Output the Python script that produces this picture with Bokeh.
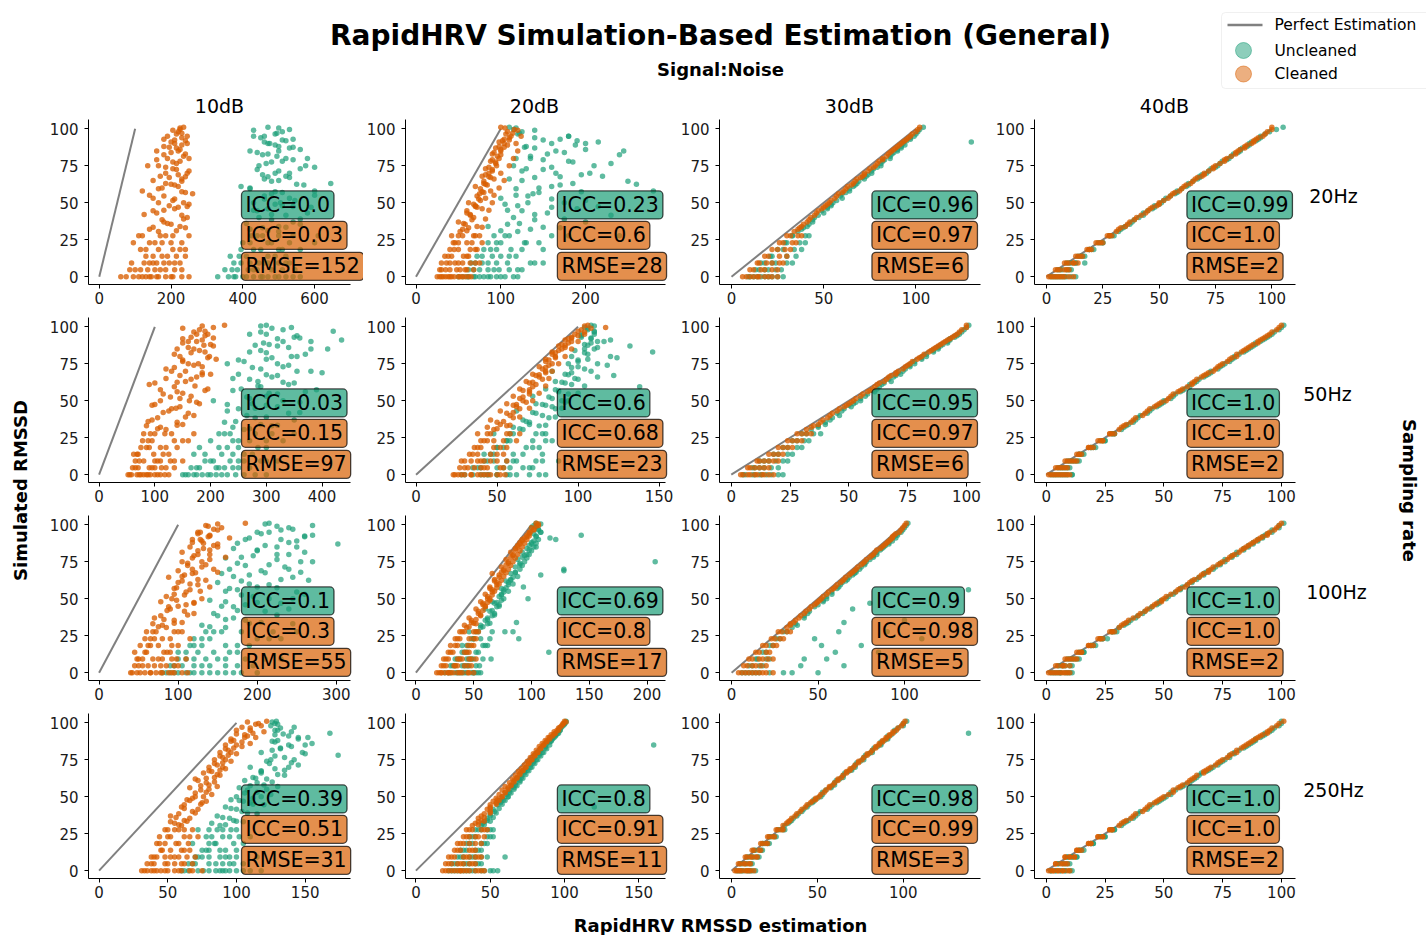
import math
from bokeh.plotting import figure
from bokeh.models import Range1d, Label, BoxAnnotation, FixedTicker
from bokeh.layouts import row, column
from bokeh.core.properties import value
from bokeh.embed import file_html
from bokeh.resources import INLINE

# ---------------- data ----------------
noise_levels = ["10dB", "20dB", "30dB", "40dB"]
sampling_rates = ["20Hz", "50Hz", "100Hz", "250Hz"]

simulated_rmssd = [0, 0, 0, 0, 0, 4.6, 4.6, 4.6, 9.2, 9.2, 9.2, 13.8, 13.8, 18.4, 18.4, 23, 23, 27.6, 27.6,
                   32, 34, 37, 40, 43, 46, 48, 50, 53, 56, 58, 61, 63, 66, 68, 70, 73, 75, 78, 80, 83, 85,
                   87, 89, 91, 93, 95, 98, 101,
                   0, 0, 0, 0, 0, 4.6, 4.6, 4.6, 9.2, 9.2, 9.2, 13.8, 13.8, 18.4, 18.4, 23, 23, 27.6, 27.6,
                   30.5, 33, 35.5, 38.5, 41.5, 44.5, 47, 49, 51.5, 54.5, 57, 59.5, 62, 64.5, 67, 69, 71.5, 74,
                   76.5, 79, 81.5, 84, 86, 88, 90, 92, 94, 96.5, 99.5]

# extra simulations shown in the noisier (10dB / 20dB) panels
simulated_rmssd_extra = [0, 0, 0, 0, 0, 4.6, 4.6, 4.6, 9.2, 9.2, 9.2, 13.8, 13.8, 18.4, 18.4, 23, 23, 27.6, 27.6,
                         31, 33.5, 36, 39, 42, 45, 47.5, 50, 52.5, 55, 57.5, 60, 62.5, 65, 67.5, 70, 72.5, 75,
                         77.5, 80, 82.5, 85, 87.5, 90, 92.5, 95, 97, 99, 100.5]

perfect_estimation = [0, 100]

# 20Hz row
cleaned_20hz_10db = [60, 145, 185, 110, 230, 85, 170, 135, 125, 195, 160, 150, 215, 115, 240, 175, 95, 205, 250,
                     140, 225, 180, 245, 160, 210, 195, 235, 150, 260, 120, 220, 185, 230, 170, 245, 205, 135, 225, 190, 240, 160, 215, 230, 200, 180, 245, 220, 235,
                     95, 130, 165, 200, 250, 115, 155, 210, 140, 180, 225, 175, 240, 130, 205, 155, 230, 185, 120,
                     165, 240, 200, 175, 230, 150, 220, 250, 205, 180, 240, 165, 210, 230, 195, 220, 250, 185, 215, 160, 235, 200, 225, 180, 210, 240, 230, 215, 225]
uncleaned_20hz_10db = [330, 375, 430, 470, 520, 350, 415, 545, 395, 460, 500, 365, 520, 430, 560, 400, 480, 455, 610,
                       420, 500, 540, 445, 580, 470, 510, 430, 530, 480, 600, 395, 645, 460, 520, 490, 560, 445, 510, 580, 470, 420, 530, 490, 460, 540, 430, 510, 470,
                       380, 410, 455, 500, 540, 370, 440, 480, 420, 470, 520, 390, 490, 450, 510, 470, 600, 425, 540,
                       500, 455, 560, 480, 520, 440, 590, 490, 545, 460, 510, 420, 570, 480, 530, 455, 500, 600, 465, 540, 495, 440, 560, 500, 470, 520, 450, 490, 530]
cleaned_20hz_10db_extra = [75, 120, 160, 205, 140, 100, 185, 230, 90, 150, 210, 130, 190, 165, 225, 140, 200, 110, 170,
                           215, 150, 190, 235, 125, 180, 245, 165, 210, 140, 230, 175, 200, 150, 240, 185, 215, 165, 205, 250, 180, 220, 195, 245, 210, 190, 230, 205, 225]
uncleaned_20hz_10db_extra = [360, 400, 450, 490, 560, 385, 430, 510, 375, 445, 530, 410, 470, 395, 500, 420, 530, 440, 500,
                             470, 520, 410, 560, 480, 430, 540, 505, 460, 600, 490, 420, 550, 500, 470, 530, 440, 575, 480, 520, 455, 500, 540, 475, 510, 460, 495, 430, 500]
cleaned_20hz_20db = [25, 35, 45, 55, 62, 30, 48, 68, 40, 55, 75, 38, 62, 45, 70, 50, 66, 42, 75,
                     55, 72, 50, 68, 60, 78, 70, 62, 82, 75, 88, 70, 80, 92, 78, 86, 82, 95, 88, 98, 90, 100, 94, 108, 98, 104, 112, 108, 100,
                     28, 40, 50, 58, 32, 35, 52, 60, 30, 46, 64, 42, 56, 50, 64, 46, 60, 55, 70,
                     52, 62, 58, 66, 64, 60, 72, 68, 76, 72, 80, 76, 84, 80, 88, 82, 90, 86, 94, 90, 96, 92, 100, 98, 104, 102, 110, 106, 116]
uncleaned_20hz_20db = [70, 80, 95, 60, 115, 75, 92, 110, 65, 135, 85, 90, 100, 80, 112, 95, 130, 105, 240,
                       135, 85, 200, 115, 155, 190, 120, 175, 100, 138, 280, 160, 185, 110, 220, 165, 130, 210, 180, 118, 155, 245, 140, 188, 215, 170, 180, 125, 110,
                       55, 75, 88, 100, 68, 62, 85, 120, 70, 95, 150, 78, 110, 88, 125, 100, 145, 92, 160,
                       120, 170, 108, 140, 230, 125, 160, 105, 200, 132, 145, 118, 170, 250, 140, 195, 125, 160, 230, 150, 135, 175, 200, 130, 160, 190, 140, 120, 115]
cleaned_20hz_20db_extra = [30, 42, 52, 38, 65, 28, 40, 58, 36, 50, 70, 34, 60, 40, 72, 44, 78, 50, 68,
                           60, 78, 56, 82, 64, 86, 70, 90, 74, 92, 78, 98, 82, 104, 86, 100, 90, 110, 94, 115, 100, 120, 104, 118, 110, 124, 114, 120, 105]
uncleaned_20hz_20db_extra = [62, 85, 105, 50, 120, 68, 98, 125, 78, 108, 140, 72, 118, 95, 150, 85, 128, 110, 180,
                             100, 150, 122, 175, 140, 108, 215, 132, 160, 118, 195, 145, 260, 125, 170, 205, 150, 115, 185, 135, 240, 165, 128, 200, 150, 180, 122, 140, 118]
cleaned_20hz_30db = [8, 12, 15, 20, 25, 12, 18, 25, 15, 22, 28, 20, 30, 25, 32, 28, 35, 32, 38,
                     36, 38, 41, 43, 46, 49, 51, 53, 56, 58, 61, 63, 66, 68, 71, 72, 75, 78, 80, 82, 85, 87, 89, 91, 93, 95, 97, 100, 102,
                     10, 14, 18, 22, 6, 10, 16, 22, 14, 19, 26, 18, 26, 22, 29, 26, 33, 30, 36,
                     34, 37, 39, 42, 45, 47, 50, 52, 54, 57, 60, 62, 65, 67, 70, 72, 74, 77, 79, 82, 84, 86, 88, 90, 92, 94, 96, 98, 101]
uncleaned_20hz_30db = [10, 14, 18, 22, 28, 15, 20, 27, 18, 24, 33, 22, 35, 28, 38, 30, 40, 33, 42,
                       38, 41, 44, 45, 50, 52, 54, 55, 60, 60, 64, 66, 68, 72, 73, 76, 77, 81, 82, 86, 87, 90, 92, 94, 130, 97, 99, 101, 104,
                       12, 16, 20, 25, 9, 13, 18, 24, 16, 22, 30, 21, 30, 25, 34, 29, 37, 33, 40,
                       36, 39, 42, 44, 47, 49, 52, 54, 57, 59, 62, 64, 67, 69, 71, 74, 76, 79, 81, 83, 86, 88, 90, 92, 93, 95, 97, 100, 102]
cleaned_20hz_40db = [2, 4, 6, 8, 10, 5, 8, 10, 9, 12, 14, 14, 16, 19, 20, 23, 25, 28, 29,
                     32, 35, 37, 40, 44, 46, 49, 50, 54, 56, 59, 61, 64, 66, 69, 70, 74, 75, 79, 80, 84, 85, 88, 89, 92, 93, 96, 98, 100,
                     1, 3, 5, 7, 12, 4, 6, 9, 8, 10, 12, 13, 15, 18, 19, 22, 24, 27, 28,
                     31, 33, 36, 39, 42, 45, 47, 50, 52, 55, 57, 60, 62, 65, 67, 70, 72, 74, 77, 79, 82, 84, 86, 88, 91, 92, 94, 97, 100]
uncleaned_20hz_40db = [3, 5, 7, 9, 11, 6, 9, 11, 10, 13, 17, 15, 17, 19, 21, 24, 25, 28, 30,
                       33, 35, 38, 41, 43, 47, 48, 51, 53, 57, 58, 62, 63, 67, 68, 71, 73, 76, 78, 81, 83, 86, 87, 90, 91, 94, 95, 99, 105,
                       2, 4, 6, 8, 13, 5, 7, 10, 9, 11, 13, 14, 16, 19, 20, 23, 25, 28, 29,
                       32, 34, 37, 39, 43, 45, 48, 50, 52, 55, 58, 60, 63, 65, 68, 69, 72, 75, 77, 80, 82, 85, 86, 89, 90, 93, 95, 97, 102]

# 50Hz row
cleaned_50hz_10db = [52, 68, 85, 100, 118, 60, 90, 120, 65, 100, 135, 70, 115, 85, 140, 95, 160, 80, 130,
                     110, 150, 95, 170, 125, 145, 180, 110, 165, 140, 195, 90, 155, 175, 200, 130, 185, 160, 210, 145, 190, 170, 205, 150, 185, 165, 195, 180, 225,
                     58, 75, 92, 110, 125, 70, 100, 135, 80, 110, 150, 62, 125, 75, 110, 88, 150, 100, 170,
                     120, 85, 140, 105, 160, 130, 95, 175, 145, 115, 190, 135, 100, 165, 145, 185, 120, 170, 150, 195, 135, 180, 160, 200, 175, 150, 190, 170, 205]
uncleaned_50hz_10db = [150, 175, 195, 230, 280, 165, 210, 250, 190, 235, 300, 220, 260, 180, 285, 250, 330, 215, 310,
                       240, 290, 350, 265, 230, 320, 275, 205, 300, 370, 255, 340, 285, 310, 250, 380, 330, 230, 300, 355, 270, 410, 320, 295, 435, 350, 270, 330, 300,
                       160, 185, 210, 245, 300, 180, 225, 270, 200, 250, 320, 170, 240, 230, 300, 200, 270, 235, 350,
                       260, 310, 225, 280, 340, 250, 300, 360, 270, 320, 240, 290, 350, 270, 320, 400, 290, 340, 260, 310, 370, 290, 340, 305, 380, 320, 355, 290, 345]
cleaned_50hz_10db_extra = [55, 72, 88, 105, 80, 65, 95, 112, 72, 105, 128, 68, 98, 90, 120, 78, 135, 92, 118,
                           105, 140, 88, 155, 115, 138, 100, 162, 128, 150, 110, 172, 140, 120, 185, 155, 135, 178, 150, 198, 165, 140, 188, 160, 205, 175, 190, 150, 185]
uncleaned_50hz_10db_extra = [155, 170, 200, 220, 260, 175, 215, 240, 205, 260, 290, 190, 275, 215, 250, 240, 300, 225, 280,
                             270, 320, 245, 300, 360, 280, 230, 330, 265, 305, 390, 285, 330, 240, 300, 355, 275, 320, 250, 345, 300, 380, 280, 330, 360, 300, 420, 310, 290]
cleaned_50hz_20db = [23, 30, 38, 46, 55, 27, 40, 52, 30, 42, 50, 33, 46, 36, 52, 40, 48, 38, 58,
                     44, 52, 46, 58, 52, 62, 56, 66, 60, 70, 64, 74, 68, 76, 72, 80, 76, 84, 80, 86, 84, 90, 88, 94, 92, 96, 98, 102, 106,
                     26, 34, 42, 50, 28, 30, 44, 36, 34, 46, 40, 38, 50, 40, 48, 44, 54, 46, 56,
                     48, 56, 50, 60, 56, 64, 60, 68, 64, 70, 66, 72, 70, 78, 74, 80, 78, 82, 80, 86, 84, 88, 92, 90, 96, 94, 100, 104, 117]
uncleaned_50hz_20db = [30, 45, 56, 76, 40, 35, 50, 70, 48, 62, 74, 42, 78, 50, 68, 56, 72, 48, 80,
                       60, 70, 66, 78, 62, 84, 74, 90, 72, 88, 80, 96, 86, 112, 92, 84, 100, 94, 106, 96, 146, 104, 132, 108, 120, 102, 110, 106, 108,
                       35, 50, 62, 80, 44, 40, 58, 66, 44, 56, 88, 48, 60, 54, 72, 58, 80, 60, 74,
                       66, 76, 70, 82, 74, 86, 80, 92, 84, 94, 88, 138, 92, 100, 122, 96, 104, 118, 100, 124, 106, 98, 112, 104, 116, 108, 102, 110, 104]
cleaned_50hz_20db_extra = [24, 34, 44, 52, 40, 32, 42, 54, 28, 38, 56, 35, 54, 38, 56, 42, 62, 44, 64,
                           50, 58, 54, 64, 60, 70, 62, 72, 66, 76, 70, 80, 72, 82, 76, 84, 80, 88, 82, 92, 86, 96, 92, 100, 96, 104, 100, 108, 104]
uncleaned_50hz_20db_extra = [28, 42, 58, 70, 50, 38, 54, 72, 42, 60, 78, 46, 66, 50, 76, 56, 84, 58, 78,
                             64, 80, 68, 86, 72, 90, 78, 94, 82, 100, 86, 104, 90, 98, 94, 108, 96, 112, 100, 120, 104, 110, 106, 112, 108, 102, 110, 106, 110]
cleaned_50hz_30db = [5, 8, 11, 14, 18, 8, 12, 16, 12, 16, 20, 18, 22, 22, 26, 26, 30, 30, 34,
                     34, 37, 39, 42, 45, 48, 50, 52, 55, 58, 60, 62, 65, 67, 70, 71, 74, 76, 79, 81, 84, 86, 88, 90, 92, 94, 96, 98, 100,
                     4, 7, 10, 13, 16, 7, 10, 14, 11, 14, 18, 16, 20, 20, 24, 24, 28, 28, 32,
                     32, 35, 38, 41, 43, 46, 49, 51, 53, 56, 59, 61, 63, 66, 68, 70, 73, 75, 77, 80, 82, 85, 87, 89, 91, 93, 95, 97, 100]
uncleaned_50hz_30db = [6, 10, 13, 17, 22, 10, 14, 20, 14, 19, 24, 20, 26, 24, 30, 28, 33, 32, 38,
                       37, 40, 42, 46, 47, 51, 52, 55, 57, 61, 62, 64, 68, 69, 72, 73, 76, 78, 81, 83, 86, 88, 89, 92, 93, 95, 97, 99, 101,
                       5, 9, 12, 15, 20, 9, 12, 17, 12, 16, 22, 18, 24, 22, 28, 26, 31, 30, 35,
                       34, 37, 40, 43, 45, 48, 50, 53, 55, 58, 60, 63, 65, 67, 70, 71, 74, 76, 78, 81, 83, 86, 88, 90, 92, 93, 96, 98, 100]
cleaned_50hz_40db = [2, 4, 6, 8, 9, 5, 7, 9, 9, 11, 13, 14, 15, 18, 20, 23, 24, 27, 29,
                     32, 34, 37, 41, 43, 46, 48, 51, 53, 56, 58, 62, 63, 66, 68, 71, 73, 75, 78, 81, 83, 85, 87, 90, 91, 93, 95, 98, 100,
                     1, 3, 5, 7, 10, 4, 6, 8, 8, 10, 12, 13, 14, 18, 19, 22, 24, 27, 28,
                     31, 33, 36, 38, 42, 44, 47, 49, 52, 54, 57, 60, 62, 64, 67, 69, 72, 74, 77, 79, 81, 84, 86, 88, 90, 92, 94, 96, 99]
uncleaned_50hz_40db = [3, 5, 7, 9, 11, 6, 8, 10, 10, 12, 14, 14, 16, 19, 21, 24, 25, 28, 29,
                       33, 35, 38, 40, 44, 47, 49, 50, 54, 57, 59, 61, 64, 67, 69, 70, 74, 76, 79, 80, 84, 86, 88, 89, 92, 94, 96, 99, 101,
                       2, 4, 6, 8, 11, 5, 7, 9, 9, 11, 13, 14, 15, 19, 20, 23, 25, 28, 29,
                       32, 34, 37, 39, 43, 45, 48, 50, 53, 55, 58, 61, 63, 65, 68, 70, 73, 75, 78, 80, 82, 85, 87, 89, 91, 93, 95, 97, 100]

# 100Hz row
cleaned_100hz_10db = [42, 58, 72, 88, 105, 50, 70, 95, 55, 80, 110, 45, 90, 62, 100, 70, 115, 60, 95,
                      80, 105, 70, 120, 90, 110, 78, 130, 95, 115, 140, 100, 125, 108, 150, 118, 135, 105, 160, 125, 140, 115, 150, 130, 165, 140, 125, 155, 185,
                      48, 65, 80, 95, 112, 55, 78, 100, 48, 68, 92, 60, 82, 52, 75, 65, 90, 72, 105,
                      85, 68, 95, 78, 108, 88, 120, 98, 85, 110, 95, 125, 105, 88, 118, 100, 130, 112, 140, 120, 105, 132, 145, 118, 128, 138, 125, 150, 135]
uncleaned_100hz_10db = [85, 100, 120, 140, 200, 95, 130, 175, 110, 150, 210, 125, 165, 115, 190, 140, 230, 155, 250,
                        130, 205, 170, 145, 240, 185, 160, 215, 260, 175, 200, 150, 230, 190, 255, 165, 215, 270, 180, 240, 200, 225, 302, 250, 190, 270, 215, 240, 215,
                        90, 110, 130, 160, 180, 105, 140, 195, 120, 160, 230, 100, 145, 130, 175, 120, 200, 135, 220,
                        160, 245, 185, 150, 210, 170, 230, 140, 195, 250, 165, 215, 180, 245, 155, 205, 235, 175, 225, 195, 260, 170, 210, 240, 185, 260, 205, 230, 270]
cleaned_100hz_10db_extra = [40, 52, 65, 78, 92, 45, 62, 85, 50, 75, 98, 58, 86, 65, 92, 58, 80, 68, 100,
                            75, 95, 82, 112, 86, 100, 120, 92, 108, 128, 98, 115, 135, 105, 122, 145, 112, 130, 118, 140, 125, 150, 132, 118, 140, 128, 145, 138, 150]
uncleaned_100hz_10db_extra = [80, 95, 115, 150, 170, 90, 120, 160, 100, 135, 185, 110, 175, 120, 160, 130, 215, 145, 180,
                              140, 190, 160, 225, 175, 155, 200, 245, 180, 160, 225, 190, 265, 170, 210, 240, 185, 255, 160, 225, 200, 250, 175, 230, 260, 200, 245, 225, 210]
cleaned_100hz_20db = [18, 25, 32, 40, 50, 22, 33, 45, 24, 36, 48, 28, 42, 30, 45, 34, 50, 38, 52,
                      42, 48, 46, 54, 52, 58, 56, 62, 60, 66, 64, 70, 68, 72, 74, 76, 78, 80, 82, 84, 86, 88, 90, 92, 94, 96, 98, 100, 104,
                      20, 28, 36, 45, 22, 26, 36, 48, 28, 40, 52, 30, 46, 34, 48, 36, 46, 40, 50,
                      44, 52, 48, 56, 54, 60, 58, 64, 62, 66, 64, 70, 68, 72, 66, 76, 74, 80, 78, 84, 82, 86, 88, 90, 92, 96, 98, 102, 106]
uncleaned_100hz_20db = [25, 38, 48, 52, 44, 30, 42, 55, 34, 65, 46, 44, 115, 40, 58, 50, 89, 46, 77,
                        56, 87, 62, 68, 60, 72, 66, 97, 74, 76, 93, 80, 82, 108, 86, 128, 90, 207, 92, 96, 98, 104, 100, 102, 116, 143, 108, 100, 104,
                        30, 42, 50, 54, 36, 34, 46, 40, 38, 50, 44, 40, 52, 44, 62, 48, 56, 52, 84,
                        56, 62, 60, 66, 64, 70, 68, 74, 72, 76, 74, 80, 78, 84, 82, 128, 86, 90, 88, 94, 92, 96, 98, 100, 121, 104, 102, 106, 102]
cleaned_100hz_20db_extra = [22, 30, 38, 46, 28, 24, 34, 42, 26, 38, 46, 32, 44, 36, 50, 38, 52, 42, 54,
                            46, 50, 52, 56, 58, 60, 62, 64, 66, 68, 70, 72, 74, 76, 78, 80, 82, 84, 86, 88, 90, 92, 94, 96, 98, 99, 102, 104, 106]
uncleaned_100hz_20db_extra = [28, 40, 50, 56, 34, 32, 44, 52, 36, 48, 58, 42, 54, 46, 60, 50, 64, 54, 66,
                              58, 64, 62, 68, 66, 72, 70, 76, 74, 80, 78, 84, 82, 88, 86, 90, 92, 94, 96, 98, 100, 102, 104, 106, 104, 108, 106, 104, 108]
cleaned_100hz_30db = [6, 10, 14, 18, 24, 9, 14, 20, 12, 18, 24, 16, 22, 20, 26, 25, 30, 29, 34,
                      34, 36, 39, 42, 45, 48, 50, 52, 55, 58, 60, 63, 65, 68, 70, 72, 75, 77, 80, 82, 84, 87, 89, 91, 93, 94, 97, 99, 101,
                      4, 8, 12, 16, 20, 7, 12, 17, 10, 16, 21, 14, 20, 18, 24, 23, 28, 27, 32,
                      32, 34, 37, 40, 43, 46, 49, 51, 53, 56, 59, 61, 64, 66, 69, 71, 73, 76, 78, 81, 83, 86, 88, 90, 92, 93, 95, 98, 100]
uncleaned_100hz_30db = [8, 12, 16, 22, 30, 12, 18, 40, 15, 22, 55, 20, 60, 24, 75, 28, 48, 32, 90,
                        38, 65, 42, 44, 70, 50, 53, 55, 58, 137, 62, 64, 67, 70, 72, 74, 77, 78, 82, 84, 86, 88, 91, 93, 95, 96, 98, 100, 102,
                        6, 10, 14, 35, 50, 10, 16, 65, 14, 20, 42, 18, 85, 22, 52, 26, 110, 30, 62,
                        35, 37, 100, 42, 45, 48, 80, 53, 55, 58, 61, 63, 66, 68, 71, 72, 75, 77, 80, 82, 84, 87, 89, 91, 92, 94, 96, 99, 101]
cleaned_100hz_40db = [2, 4, 5, 7, 9, 5, 7, 10, 9, 11, 13, 14, 15, 18, 20, 23, 24, 28, 29,
                      32, 34, 37, 40, 43, 46, 49, 50, 53, 56, 59, 61, 63, 66, 69, 70, 73, 75, 78, 80, 83, 85, 87, 89, 91, 94, 95, 98, 100,
                      1, 3, 6, 8, 10, 4, 7, 8, 8, 10, 12, 13, 15, 18, 19, 22, 23, 27, 28,
                      31, 33, 35, 39, 42, 45, 47, 49, 51, 55, 57, 60, 62, 65, 67, 69, 71, 74, 77, 79, 82, 84, 86, 88, 90, 92, 94, 97, 99]
uncleaned_100hz_40db = [3, 5, 6, 8, 10, 6, 8, 11, 10, 12, 14, 15, 16, 19, 21, 24, 26, 28, 30,
                        33, 35, 38, 41, 44, 47, 48, 51, 54, 57, 58, 62, 64, 67, 68, 71, 74, 76, 79, 81, 84, 86, 88, 90, 92, 93, 96, 99, 101,
                        2, 4, 6, 9, 11, 5, 7, 10, 9, 11, 13, 14, 16, 19, 20, 23, 24, 28, 29,
                        31, 34, 36, 39, 42, 45, 48, 49, 52, 55, 57, 60, 62, 65, 67, 69, 72, 74, 76, 79, 81, 84, 86, 88, 90, 92, 94, 96, 99]

# 250Hz row
cleaned_250hz_10db = [31, 38, 45, 55, 68, 35, 48, 62, 40, 52, 70, 45, 60, 42, 65, 50, 72, 48, 58,
                      55, 62, 52, 68, 60, 75, 64, 70, 78, 66, 80, 72, 84, 76, 88, 80, 90, 84, 94, 88, 98, 92, 104, 96, 108, 112, 100, 118, 122,
                      35, 42, 50, 60, 75, 40, 55, 68, 38, 48, 58, 52, 66, 48, 58, 44, 62, 55, 68,
                      60, 52, 66, 58, 72, 62, 78, 68, 82, 74, 86, 78, 70, 88, 82, 92, 86, 96, 90, 100, 94, 104, 110, 98, 114, 106, 120, 110, 116]
uncleaned_250hz_10db = [60, 72, 88, 95, 100, 65, 85, 98, 70, 80, 92, 75, 88, 68, 84, 78, 95, 72, 90,
                        82, 98, 86, 104, 92, 110, 96, 100, 115, 102, 120, 106, 112, 118, 135, 110, 140, 125, 174, 118, 132, 150, 128, 145, 138, 168, 130, 125, 129,
                        65, 80, 90, 110, 118, 70, 90, 105, 75, 95, 115, 80, 100, 85, 105, 90, 110, 80, 100,
                        88, 105, 95, 115, 100, 120, 105, 112, 125, 108, 130, 115, 122, 135, 118, 128, 145, 122, 135, 150, 126, 140, 155, 130, 145, 128, 140, 132, 128]
cleaned_250hz_10db_extra = [33, 40, 48, 58, 66, 38, 50, 60, 42, 55, 64, 46, 62, 44, 56, 52, 66, 50, 62,
                            58, 64, 56, 70, 62, 74, 66, 76, 70, 80, 74, 84, 78, 86, 80, 90, 84, 92, 88, 96, 92, 100, 96, 106, 100, 110, 104, 114, 108]
uncleaned_250hz_10db_extra = [62, 76, 85, 92, 105, 68, 80, 95, 72, 88, 100, 78, 92, 80, 98, 82, 102, 86, 96,
                              92, 100, 90, 108, 96, 112, 102, 118, 106, 122, 110, 126, 114, 130, 118, 138, 124, 142, 128, 148, 132, 138, 126, 152, 134, 128, 142, 130, 126]
cleaned_250hz_20db = [18, 24, 30, 36, 44, 20, 28, 38, 22, 32, 42, 26, 36, 28, 40, 32, 42, 34, 46,
                      40, 44, 44, 50, 50, 54, 55, 58, 60, 62, 64, 66, 68, 70, 72, 74, 76, 78, 80, 82, 84, 86, 88, 90, 92, 94, 96, 98, 100,
                      20, 26, 32, 40, 46, 22, 30, 36, 24, 34, 40, 28, 38, 30, 36, 34, 40, 36, 44,
                      38, 42, 42, 46, 48, 50, 52, 54, 56, 58, 60, 63, 65, 67, 69, 71, 73, 75, 77, 79, 81, 83, 85, 87, 89, 91, 93, 96, 99]
uncleaned_250hz_20db = [22, 28, 34, 40, 55, 24, 32, 42, 28, 36, 60, 30, 40, 34, 44, 36, 48, 40, 50,
                        45, 48, 50, 53, 120, 57, 59, 62, 63, 66, 67, 70, 71, 73, 75, 77, 79, 81, 83, 85, 87, 160, 90, 92, 94, 96, 97, 99, 101,
                        24, 30, 36, 44, 50, 26, 34, 40, 30, 38, 44, 32, 42, 36, 46, 38, 50, 42, 48,
                        44, 46, 48, 50, 52, 55, 57, 58, 61, 63, 65, 67, 69, 71, 73, 74, 77, 79, 80, 83, 84, 87, 88, 91, 92, 94, 96, 97, 100]
cleaned_250hz_20db_extra = [22, 28, 34, 42, 30, 24, 32, 40, 26, 36, 44, 30, 40, 32, 44, 36, 46, 38, 48,
                            42, 46, 46, 50, 50, 54, 56, 58, 60, 62, 64, 66, 68, 70, 72, 74, 76, 78, 80, 82, 84, 86, 88, 90, 93, 95, 97, 99, 101]
uncleaned_250hz_20db_extra = [26, 32, 38, 46, 52, 28, 36, 44, 32, 40, 48, 34, 44, 38, 48, 40, 52, 44, 52,
                              46, 50, 52, 54, 56, 58, 60, 62, 64, 66, 68, 70, 72, 74, 76, 78, 80, 82, 84, 86, 88, 90, 91, 93, 95, 97, 98, 100, 101]
cleaned_250hz_30db = [3, 5, 8, 10, 13, 5, 8, 11, 9, 12, 15, 13, 17, 18, 21, 22, 25, 27, 30,
                      32, 34, 37, 40, 43, 46, 49, 51, 54, 57, 59, 62, 64, 67, 69, 71, 74, 76, 79, 81, 84, 86, 88, 90, 92, 94, 96, 99, 101,
                      2, 4, 6, 9, 11, 4, 7, 10, 8, 11, 14, 12, 16, 17, 20, 21, 24, 26, 29,
                      30, 33, 35, 38, 41, 44, 47, 49, 52, 55, 57, 60, 62, 65, 67, 69, 72, 74, 77, 79, 82, 84, 86, 88, 90, 92, 94, 97, 100]
uncleaned_250hz_30db = [4, 6, 9, 11, 14, 6, 9, 12, 10, 13, 16, 14, 18, 19, 22, 23, 26, 28, 31,
                        33, 35, 38, 41, 44, 47, 48, 52, 53, 58, 60, 61, 65, 66, 70, 72, 73, 77, 78, 82, 83, 87, 87, 91, 91, 138, 95, 100, 102,
                        3, 5, 7, 10, 12, 5, 8, 11, 9, 12, 15, 13, 17, 18, 21, 22, 25, 27, 30,
                        31, 34, 36, 39, 42, 45, 48, 50, 53, 55, 58, 60, 63, 65, 68, 70, 72, 75, 77, 80, 82, 85, 87, 89, 91, 93, 95, 97, 100]
cleaned_250hz_40db = [2, 3, 5, 7, 9, 4, 7, 9, 8, 10, 12, 13, 15, 18, 19, 22, 24, 27, 28,
                      32, 34, 37, 41, 43, 46, 48, 50, 54, 56, 58, 61, 63, 67, 68, 70, 73, 75, 78, 81, 83, 85, 87, 89, 91, 94, 95, 98, 101,
                      1, 3, 5, 7, 10, 4, 6, 8, 8, 10, 12, 13, 14, 18, 19, 22, 24, 27, 28,
                      31, 33, 36, 38, 42, 44, 47, 49, 52, 54, 57, 60, 62, 64, 67, 69, 72, 74, 77, 79, 81, 84, 86, 88, 90, 92, 94, 96, 99]
uncleaned_250hz_40db = [2, 4, 6, 8, 10, 5, 8, 10, 9, 11, 13, 14, 16, 19, 20, 23, 25, 28, 29,
                        33, 35, 38, 40, 44, 47, 49, 51, 53, 57, 59, 62, 64, 66, 69, 71, 74, 76, 78, 80, 84, 86, 88, 89, 92, 93, 96, 99, 100,
                        2, 4, 6, 8, 11, 5, 7, 9, 9, 11, 13, 14, 15, 19, 20, 23, 25, 28, 29,
                        32, 34, 37, 39, 43, 45, 48, 50, 53, 55, 58, 61, 63, 65, 68, 70, 73, 75, 78, 80, 82, 85, 87, 89, 91, 93, 95, 97, 100]

icc_uncleaned = [["0.0", "0.23", "0.96", "0.99"],
                 ["0.03", "0.6", "0.95", "1.0"],
                 ["0.1", "0.69", "0.9", "1.0"],
                 ["0.39", "0.8", "0.98", "1.0"]]
icc_cleaned = [["0.03", "0.6", "0.97", "1.0"],
               ["0.15", "0.68", "0.97", "1.0"],
               ["0.3", "0.8", "0.98", "1.0"],
               ["0.51", "0.91", "0.99", "1.0"]]
rmse_cleaned = [["152", "28", "6", "2"],
                ["97", "23", "6", "2"],
                ["55", "17", "5", "2"],
                ["31", "11", "3", "2"]]

x_ticks = [[[0, 200, 400, 600], [0, 100, 200], [0, 50, 100], [0, 25, 50, 75, 100]],
           [[0, 100, 200, 300, 400], [0, 50, 100, 150], [0, 25, 50, 75, 100], [0, 25, 50, 75, 100]],
           [[0, 100, 200, 300], [0, 50, 100, 150, 200], [0, 50, 100], [0, 25, 50, 75, 100]],
           [[0, 50, 100, 150], [0, 50, 100, 150], [0, 50, 100], [0, 25, 50, 75, 100]]]
y_ticks = [0, 25, 50, 75, 100]

x_limits = [[(-30, 700), (-12.4, 294.4), (-6.5, 135), (-5.3, 110.5)],
            [(-19, 451), (-6.5, 154), (-5, 106), (-5, 106)],
            [(-13.4, 318), (-9, 216), (-7, 144), (-5, 106)],
            [(-7.7, 183), (-7, 168), (-7, 145), (-5, 106)]]
y_limits = (-5.3, 106.3)

cleaned = [[cleaned_20hz_10db, cleaned_20hz_20db, cleaned_20hz_30db, cleaned_20hz_40db],
           [cleaned_50hz_10db, cleaned_50hz_20db, cleaned_50hz_30db, cleaned_50hz_40db],
           [cleaned_100hz_10db, cleaned_100hz_20db, cleaned_100hz_30db, cleaned_100hz_40db],
           [cleaned_250hz_10db, cleaned_250hz_20db, cleaned_250hz_30db, cleaned_250hz_40db]]
uncleaned = [[uncleaned_20hz_10db, uncleaned_20hz_20db, uncleaned_20hz_30db, uncleaned_20hz_40db],
             [uncleaned_50hz_10db, uncleaned_50hz_20db, uncleaned_50hz_30db, uncleaned_50hz_40db],
             [uncleaned_100hz_10db, uncleaned_100hz_20db, uncleaned_100hz_30db, uncleaned_100hz_40db],
             [uncleaned_250hz_10db, uncleaned_250hz_20db, uncleaned_250hz_30db, uncleaned_250hz_40db]]
cleaned_extra = [[cleaned_20hz_10db_extra, cleaned_20hz_20db_extra, [], []],
                 [cleaned_50hz_10db_extra, cleaned_50hz_20db_extra, [], []],
                 [cleaned_100hz_10db_extra, cleaned_100hz_20db_extra, [], []],
                 [cleaned_250hz_10db_extra, cleaned_250hz_20db_extra, [], []]]
uncleaned_extra = [[uncleaned_20hz_10db_extra, uncleaned_20hz_20db_extra, [], []],
                   [uncleaned_50hz_10db_extra, uncleaned_50hz_20db_extra, [], []],
                   [uncleaned_100hz_10db_extra, uncleaned_100hz_20db_extra, [], []],
                   [uncleaned_250hz_10db_extra, uncleaned_250hz_20db_extra, [], []]]

for rr in range(4):
    for cc in range(4):
        assert len(cleaned[rr][cc]) == len(simulated_rmssd), (rr, cc, "cleaned", len(cleaned[rr][cc]))
        assert len(uncleaned[rr][cc]) == len(simulated_rmssd), (rr, cc, "uncleaned", len(uncleaned[rr][cc]))
        for ex, nm in ((cleaned_extra[rr][cc], "cleaned_extra"), (uncleaned_extra[rr][cc], "uncleaned_extra")):
            assert len(ex) in (0, len(simulated_rmssd_extra)), (rr, cc, nm, len(ex))

# ---------------- style ----------------
FONT = "DejaVu Sans"
GREEN = "#1b9e77"
ORANGE = "#d95f02"
LINE_GRAY = "#808080"

# per-column canvas widths and left borders; the axes (spines) cover AXIS_W px,
# the frame extends to the canvas edge so that the stat boxes may overhang
col_canvas_w = [320, 314, 315, 308]
col_border_l = [45, 40, 41, 41]
AXIS_W = 262


def blank(w, h, xr, yr):
    f = figure(width=w, height=h, x_range=Range1d(*xr), y_range=Range1d(*yr),
               x_axis_type=None, y_axis_type=None, output_backend="svg",
               toolbar_location=None, tools="", min_border=0)
    f.outline_line_color = None
    f.background_fill_color = "white"
    f.border_fill_color = "white"
    return f


def add_text(f, x, y, txt, size, bold=False, align="center", angle=0.0, color="black"):
    f.text(x=[x], y=[y], text=[txt], text_font=value(FONT), text_font_size=size,
           text_font_style="bold" if bold else "normal", text_align=align,
           text_baseline="middle", angle=angle, text_color=color)


def series(main, extra):
    if extra:
        return main + extra, simulated_rmssd + simulated_rmssd_extra
    return main, simulated_rmssd


def make_panel(r, c):
    x0, x1 = x_limits[r][c]
    y0, y1 = y_limits
    bl = col_border_l[c]
    cw = col_canvas_w[c]
    fw = cw - bl
    x_end = x0 + (x1 - x0) * fw / AXIS_W
    top = 4 if r == 0 else 6
    p = figure(width=cw, height=196 if r == 0 else 198,
               x_range=Range1d(x0, x_end), y_range=Range1d(y0, y1),
               output_backend="svg", toolbar_location=None, tools="",
               min_border_left=bl, min_border_right=0, min_border_top=top, min_border_bottom=27)
    p.outline_line_color = None
    p.xgrid.visible = False
    p.ygrid.visible = False
    p.background_fill_color = "white"
    p.border_fill_color = "white"

    p.line(perfect_estimation, perfect_estimation, line_color=LINE_GRAY, line_width=2)
    ux, uy = series(uncleaned[r][c], uncleaned_extra[r][c])
    cx, cy = series(cleaned[r][c], cleaned_extra[r][c])
    p.scatter(ux, uy, size=5.5, fill_color=GREEN, fill_alpha=0.7, line_color=None)
    p.scatter(cx, cy, size=5.5, fill_color=ORANGE, fill_alpha=0.78, line_color=None)

    p.xaxis.ticker = FixedTicker(ticks=x_ticks[r][c])
    p.yaxis.ticker = FixedTicker(ticks=y_ticks)
    p.xaxis.bounds = (x0, x1)
    for ax in (p.xaxis[0], p.yaxis[0]):
        ax.axis_line_color = "black"
        ax.axis_line_width = 1
        ax.major_tick_line_color = "black"
        ax.major_tick_line_width = 1
        ax.major_tick_out = 4
        ax.major_tick_in = 0
        ax.minor_tick_line_color = None
        ax.major_label_text_font = FONT
        ax.major_label_text_font_size = "15px"
        ax.major_label_text_color = "#1a1a1a"
    p.xaxis.major_label_standoff = 3
    p.yaxis.major_label_standoff = 6

    lx = x0 + 0.584 * (x1 - x0)
    boxes = [(0.482, "ICC=" + icc_uncleaned[r][c], GREEN),
             (0.298, "ICC=" + icc_cleaned[r][c], ORANGE),
             (0.11, "RMSE=" + rmse_cleaned[r][c], ORANGE)]
    for frac, txt, col in boxes:
        p.add_layout(Label(x=lx, y=y0 + frac * (y1 - y0), text=txt,
                           text_font=FONT, text_font_size="20.5px", text_color="black",
                           text_align="left", text_baseline="middle",
                           background_fill_color=col, background_fill_alpha=0.7,
                           border_line_color="black", border_line_alpha=0.7, border_line_width=1.3,
                           padding=(4, 2), border_radius=4))
    return p


# ---------------- header (page pixel coordinates) ----------------
header = blank(1426, 115, (0, 1426), (115, 0))
add_text(header, 720, 35, "RapidHRV Simulation-Based Estimation (General)", "28px", bold=True)
add_text(header, 720, 69, "Signal:Noise", "18px", bold=True)
col_centers = [219, 534, 849, 1164]
for cxx, lab in zip(col_centers, noise_levels):
    add_text(header, cxx, 105, lab, "19px")

legend_box = BoxAnnotation(left=1221, right=1440, top=12, bottom=88, fill_color="white", fill_alpha=1.0,
                           line_color="#cccccc", line_width=1, border_radius=4, level="underlay")
header.add_layout(legend_box)
header.line([1227, 1262], [24.5, 24.5], line_color=LINE_GRAY, line_width=2.5)
header.scatter([1243], [50], size=16, fill_color=GREEN, fill_alpha=0.5, line_color=GREEN, line_alpha=0.5)
header.scatter([1243], [73.5], size=16, fill_color=ORANGE, fill_alpha=0.5, line_color=ORANGE, line_alpha=0.5)
for ly, lab in zip([24.5, 50, 73.5], ["Perfect Estimation", "Uncleaned", "Cleaned"]):
    add_text(header, 1274, ly, lab, "15.5px", align="left")

# ---------------- side labels ----------------
left = blank(43, 790, (0, 43), (905, 115))
add_text(left, 20, 490, "Simulated RMSSD", "18px", bold=True, angle=math.pi / 2)

right = blank(126, 790, (1300, 1426), (905, 115))
row_label_x = [1333, 1327, 1336, 1333]
row_label_y = [195, 393, 591, 789]
for rx, ry, lab in zip(row_label_x, row_label_y, sampling_rates):
    add_text(right, rx, ry, lab, "19px")
add_text(right, 1409, 490, "Sampling rate", "18px", bold=True, angle=-math.pi / 2)

footer = blank(1426, 30, (0, 1426), (935, 905))
add_text(footer, 720, 925, "RapidHRV RMSSD estimation", "18px", bold=True)

grid = column([row([make_panel(r, c) for c in range(4)]) for r in range(4)])
layout = column(header, row(left, grid, right), footer)

open("out.html", "w").write(file_html(layout, INLINE))
